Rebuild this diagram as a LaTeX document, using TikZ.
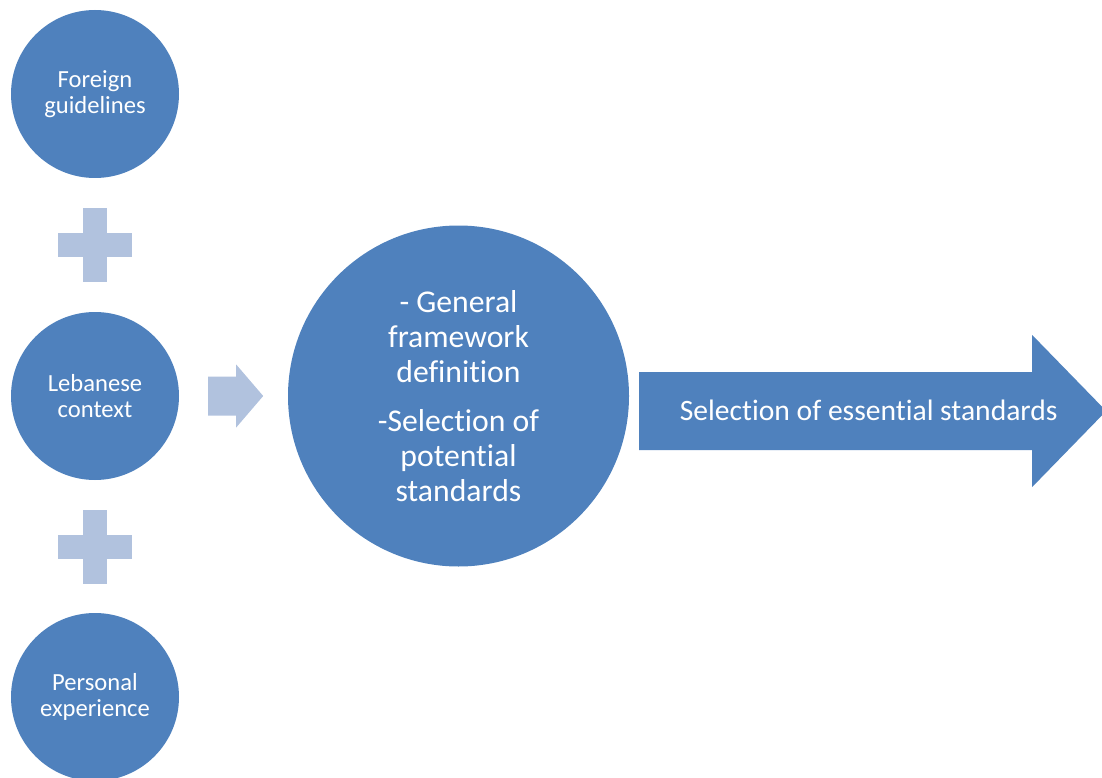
\documentclass[tikz,border=0pt]{standalone}
\usepackage{fontspec}
\setmainfont[Ligatures=NoCommon]{Carlito}
\usepackage{xcolor}
\usepackage{tikz}
\usetikzlibrary{calc}
\definecolor{disc}{HTML}{4F81BD}
\definecolor{tint}{HTML}{B1C2DE}
\tikzset{
  blob/.style={circle, fill=disc, text=white, align=center, inner sep=0pt},
  small/.style={blob, minimum size=168pt, font=\fontsize{24.6}{26}\selectfont},
  big/.style={blob, minimum size=341pt, font=\fontsize{31.7}{35}\selectfont},
  light/.style={fill=tint},
  bar/.style={fill=disc},
  lab/.style={text=white, font=\fontsize{29.6}{35}\selectfont},
}

\begin{document}
\begin{tikzpicture}[x=1pt,y=-1pt]
  \useasboundingbox (0,0) rectangle (1102,778);
  % three sources
  \node[small] (fg) at (95,94) {Foreign\\guidelines};
  \node[small] (lc) at (95,396) {Lebanese\\context};
  \node[small] (pe) at (95,697) {Personal\\experience};
  % plus signs
  \coordinate (p1) at ($(fg)!0.5!(lc)$);
  \coordinate (p2) at ($(lc)!0.5!(pe)$);
  \foreach \p in {p1,p2} {
    \fill[light] ($(\p)+(-12,-37)$) rectangle ($(\p)+(12,37)$);
    \fill[light] ($(\p)+(-37,-12)$) rectangle ($(\p)+(37,12)$);
  }
  % framework
  \node[big] (def) at (458.5,396) {- General\\framework\\definition\\[14pt]-Selection of\\potential\\standards};
  % small arrow
  \coordinate (a0) at ($(lc.east)+(29,0)$);
  \fill[light] ($(a0)+(0,-19.5)$) -- ++(28,0) -- ++(0,-12) -- ($(a0)+(55,0)$)
    -- ($(a0)+(28,31.5)$) -- ++(0,-12) -- ($(a0)+(0,19.5)$) -- cycle;
  % big arrow
  \coordinate (b0) at ($(def.east)+(10,15)$);
  \coordinate (tip) at ($(b0)+(467,0)$);
  \fill[bar] ($(b0)+(0,-39)$) -- ++(393,0) -- ++(0,-37) -- (tip)
    -- ($(b0)+(393,76)$) -- ++(0,-37) -- ($(b0)+(0,39)$) -- cycle;
  \node[lab] (ess) at ($($(b0)!0.5!(tip)$)+(-4,-1)$) {Selection of essential standards};
\end{tikzpicture}
\end{document}
